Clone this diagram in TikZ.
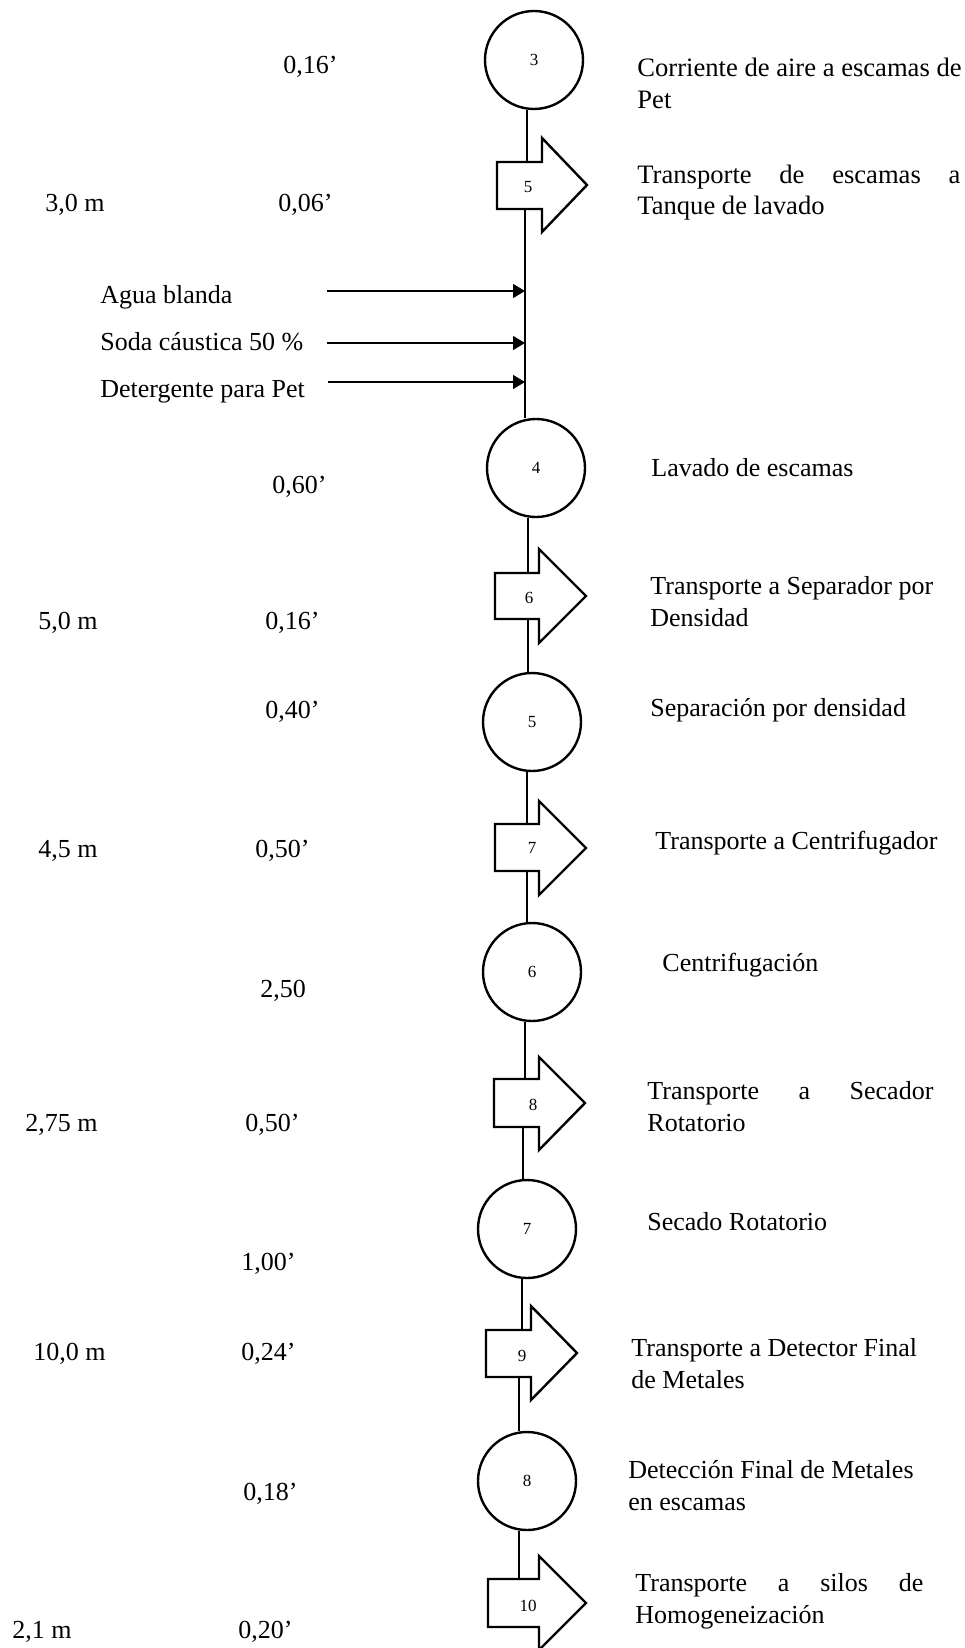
\documentclass[tikz,border=0pt]{standalone}
\usepackage{fontspec}
\setmainfont{Liberation Serif}
\usetikzlibrary{arrows.meta}

\begin{document}
\begin{tikzpicture}[x=0.5pt, y=-0.5pt,
		txt/.style={anchor=base west, inner sep=0pt, align=left, font=\fontsize{13pt}{16pt}\selectfont},
		op/.style={circle, draw, line width=1.2pt, minimum size=49pt, inner sep=0pt, font=\fontsize{8.5pt}{10pt}\selectfont},
		num/.style={inner sep=0pt, font=\fontsize{8.5pt}{10pt}\selectfont},
		shp/.style={line width=1.2pt, line join=miter},
		lnk/.style={line width=1.2pt},
		inp/.style={line width=0.65pt, -{Triangle[length=6pt, width=7pt]}}]

		\useasboundingbox (0,0) rectangle (964,1648);

		% operaciones
		\node[op] (op3) at (534, 60) {3};
		\node[op] (op4) at (536, 468) {4};
		\node[op] (op5) at (532, 722) {5};
		\node[op] (op6) at (532, 972) {6};
		\node[op] (op7) at (527, 1229) {7};
		\node[op] (op8) at (527, 1481) {8};

		% transportes
		\draw[shp] (497,162) -- (542,162) -- (542,138) -- (587,185) -- (542,232) -- (542,209) -- (497,209) -- cycle;
		\node[num] (tr5) at (528, 187) {5};
		\draw[shp] (495,573) -- (539,573) -- (539,549) -- (586,596) -- (539,643) -- (539,619) -- (495,619) -- cycle;
		\node[num] (tr6) at (529, 598) {6};
		\draw[shp] (495,824) -- (539,824) -- (539,801) -- (586,848) -- (539,895) -- (539,871) -- (495,871) -- cycle;
		\node[num] (tr7) at (532, 848) {7};
		\draw[shp] (494,1079) -- (539,1079) -- (539,1057) -- (585,1103) -- (539,1150) -- (539,1127) -- (494,1127) -- cycle;
		\node[num] (tr8) at (533, 1105) {8};
		\draw[shp] (486,1330) -- (531,1330) -- (531,1306) -- (577,1353) -- (531,1400) -- (531,1377) -- (486,1377) -- cycle;
		\node[num] (tr9) at (522, 1356) {9};
		\draw[shp] (488,1579) -- (539,1579) -- (539,1556) -- (586,1603) -- (539,1650) -- (539,1627) -- (488,1627) -- cycle;
		\node[num] (tr10) at (528, 1606) {10};

		\coordinate (tr5top) at (527, 162);
		\coordinate (tr5bot) at (525, 209);
		\coordinate (tr6top) at (528, 573);
		\coordinate (tr6bot) at (528, 619);
		\coordinate (tr7top) at (527, 824);
		\coordinate (tr7bot) at (527, 871);
		\coordinate (tr8top) at (525, 1079);
		\coordinate (tr8bot) at (523, 1127);
		\coordinate (tr9top) at (522, 1330);
		\coordinate (tr9bot) at (519, 1377);
		\coordinate (tr10top) at (519, 1579);

		% linea del proceso
		\draw[lnk] (op3.south -| tr5top) -- (tr5top);
		\draw[lnk] (tr5bot) -- (tr5bot |- op4.north);
		\draw[lnk] (op4.south -| tr6top) -- (tr6top);
		\draw[lnk] (tr6bot) -- (tr6bot |- op5.north);
		\draw[lnk] (op5.south -| tr7top) -- (tr7top);
		\draw[lnk] (tr7bot) -- (tr7bot |- op6.north);
		\draw[lnk] (op6.south -| tr8top) -- (tr8top);
		\draw[lnk] (tr8bot) -- (tr8bot |- op7.north);
		\draw[lnk] (op7.south -| tr9top) -- (tr9top);
		\draw[lnk] (tr9bot) -- (tr9bot |- op8.north);
		\draw[lnk] (op8.south -| tr10top) -- (tr10top);

		% entradas al lavado
		\node[txt] (in1) at (100, 303) {Agua blanda};
		\node[txt] (in2) at (100, 350) {Soda cáustica 50 \%};
		\node[txt] (in3) at (100, 397) {Detergente para Pet};
		\coordinate (s1) at (327, 291);
		\coordinate (s2) at (327, 343);
		\coordinate (s3) at (328, 382);
		\draw[inp] (s1) -- (s1 -| tr5bot);
		\draw[inp] (s2) -- (s2 -| tr5bot);
		\draw[inp] (s3) -- (s3 -| tr5bot);

		% descripciones (base = ultima linea)
		\node[txt, font=\fontsize{13.3pt}{16pt}\selectfont] (lop3) at (637, 109) {Corriente de aire a escamas de\\Pet};
		\node[txt, font=\fontsize{13.3pt}{16pt}\selectfont] (ltr5) at (637, 215) {\makebox[161.5pt][s]{Transporte de escamas a}\\Tanque de lavado};
		\node[txt] (lop4) at (651, 476) {Lavado de escamas};
		\node[txt] (ltr6) at (650, 626) {Transporte a Separador por\\Densidad};
		\node[txt] (lop5) at (650, 716) {Separación por densidad};
		\node[txt] (ltr7) at (655, 849) {Transporte a Centrifugador};
		\node[txt] (lop6) at (662, 971) {Centrifugación};
		\node[txt] (ltr8) at (647, 1131) {\makebox[143pt][s]{Transporte a Secador}\\Rotatorio};
		\node[txt] (lop7) at (647, 1230) {Secado Rotatorio};
		\node[txt] (ltr9) at (631, 1388) {Transporte a Detector Final\\de Metales};
		\node[txt] (lop8) at (628, 1510) {Detección Final de Metales\\en escamas};
		\node[txt] (ltr10) at (635, 1623) {\makebox[144pt][s]{Transporte a silos de}\\Homogeneización};

		% tiempos
		\node[txt] (tm1) at (283, 74) {0,16’};
		\node[txt] (tm2) at (278, 212) {0,06’};
		\node[txt] (tm3) at (272, 493) {0,60’};
		\node[txt] (tm4) at (265, 629) {0,16’};
		\node[txt] (tm5) at (265, 718) {0,40’};
		\node[txt] (tm6) at (255, 857) {0,50’};
		\node[txt] (tm7) at (260, 997) {2,50};
		\node[txt] (tm8) at (245, 1131) {0,50’};
		\node[txt] (tm9) at (241, 1270) {1,00’};
		\node[txt] (tm10) at (241, 1360) {0,24’};
		\node[txt] (tm11) at (243, 1500) {0,18’};
		\node[txt] (tm12) at (238, 1638) {0,20’};

		% distancias
		\node[txt] (ds1) at (45, 212) {3,0 m};
		\node[txt] (ds2) at (38, 629) {5,0 m};
		\node[txt] (ds3) at (38, 857) {4,5 m};
		\node[txt] (ds4) at (25, 1131) {2,75 m};
		\node[txt] (ds5) at (33, 1360) {10,0 m};
		\node[txt] (ds6) at (12, 1638) {2,1 m};
\end{tikzpicture}
\end{document}
